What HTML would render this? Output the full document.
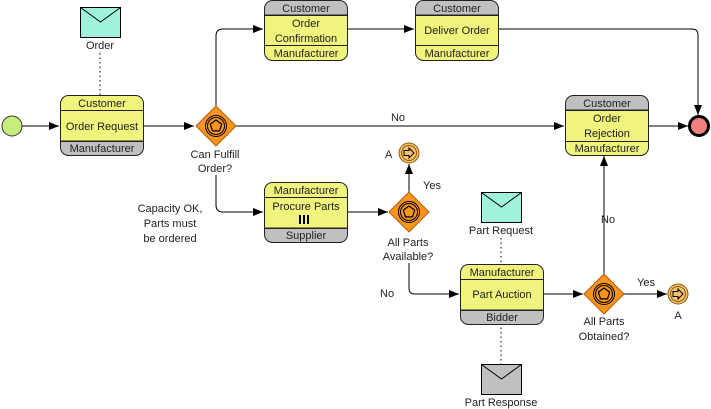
<!DOCTYPE html>
<html><head><meta charset="utf-8"><style>
body{margin:0;background:#fff;}
svg{display:block;font-family:"Liberation Sans",sans-serif;}
text{font-size:11px;fill:#222;}
</style></head><body>
<svg width="711" height="409" viewBox="0 0 711 409" xmlns="http://www.w3.org/2000/svg">
<defs>
<marker id="ar" markerWidth="10" markerHeight="8" refX="10" refY="4" orient="auto" markerUnits="userSpaceOnUse">
<path d="M0,0 L10,4 L0,8 Z" fill="#000"/></marker>
<g id="gw">
<path d="M0,-20 L20,0 L0,20 L-20,0 Z" fill="#f7941d" stroke="#b06010" stroke-width="1"/>
<circle r="10.5" fill="none" stroke="#000" stroke-width="1"/>
<circle r="8.5" fill="none" stroke="#000" stroke-width="1"/>
<path d="M0,-6 L5.7,-1.9 L3.5,4.9 L-3.5,4.9 L-5.7,-1.9 Z" fill="none" stroke="#000" stroke-width="1.2"/>
</g>
<g id="lnk">
<circle r="10" fill="#f5c26b" stroke="#8a5a10" stroke-width="1"/>
<circle r="7.5" fill="none" stroke="#8a5a10" stroke-width="1"/>
<path d="M-5,-2.5 L0,-2.5 L0,-5 L5,0 L0,5 L0,2.5 L-5,2.5 Z" fill="none" stroke="#000" stroke-width="1"/>
</g>
</defs>

<!-- connectors -->
<g stroke="#000" stroke-width="1" fill="none">
<line x1="22" y1="126" x2="59" y2="126" marker-end="url(#ar)"/>
<line x1="143" y1="126" x2="194" y2="126" marker-end="url(#ar)"/>
<path d="M216,106 L216,36 Q216,29 223,29 L263,29" marker-end="url(#ar)"/>
<line x1="347" y1="29" x2="414" y2="29" marker-end="url(#ar)"/>
<path d="M499,29 L692,29 Q698,29 698,35 L698,115" marker-end="url(#ar)"/>
<line x1="236" y1="126" x2="564" y2="126" marker-end="url(#ar)"/>
<line x1="648" y1="126" x2="688" y2="126" marker-end="url(#ar)"/>
<path d="M216,175 L216,205 Q216,212 223,212 L263,212" marker-end="url(#ar)"/>
<line x1="347" y1="212" x2="388" y2="212" marker-end="url(#ar)"/>
<line x1="409" y1="192" x2="409" y2="164" marker-end="url(#ar)"/>
<path d="M409,263 L409,288 Q409,294 415,294 L459,294" marker-end="url(#ar)"/>
<line x1="543" y1="294" x2="583" y2="294" marker-end="url(#ar)"/>
<line x1="624" y1="294" x2="667" y2="294" marker-end="url(#ar)"/>
<line x1="604" y1="274" x2="604" y2="156" marker-end="url(#ar)"/>
<line x1="100" y1="53" x2="100" y2="95" stroke-dasharray="1.5,3"/>
<line x1="501" y1="238" x2="501" y2="263" stroke-dasharray="1.5,3"/>
<line x1="501" y1="323" x2="501" y2="364" stroke-dasharray="1.5,3"/>
</g>

<!-- start / end -->
<circle cx="12" cy="126" r="10" fill="#c6ec7c" stroke="#333" stroke-width="1"/>
<circle cx="699" cy="126" r="9.5" fill="#f08080" stroke="#000" stroke-width="3"/>

<!-- envelopes -->
<g stroke="#000" stroke-width="1">
<rect x="80.5" y="7.5" width="40" height="30" fill="#9ff3dc"/><path d="M80.5,7.5 L100.5,22 L120.5,7.5" fill="none"/>
<rect x="481.5" y="192.5" width="40" height="30" fill="#9ff3dc"/><path d="M481.5,192.5 L501.5,207 L521.5,192.5" fill="none"/>
<rect x="481.5" y="364.5" width="40" height="30" fill="#c0c0c0"/><path d="M481.5,364.5 L501.5,379 L521.5,364.5" fill="none"/>
</g>

<!-- tasks -->
<g stroke="#222" stroke-width="1">
<!-- Order Request -->
<clipPath id="c1"><rect x="60.5" y="95.5" width="83" height="60" rx="8"/></clipPath>
<g clip-path="url(#c1)"><rect x="60" y="95" width="84" height="61" fill="#f0f47c"/><rect x="60" y="141" width="84" height="15" fill="#c0c0c0"/></g>
<rect x="60.5" y="95.5" width="83" height="60" rx="8" fill="none"/>
<line x1="60.5" y1="110.5" x2="143.5" y2="110.5"/><line x1="60.5" y1="141.5" x2="143.5" y2="141.5"/>
<!-- Order Confirmation -->
<clipPath id="c2"><rect x="264.5" y="0.5" width="83" height="60" rx="8"/></clipPath>
<g clip-path="url(#c2)"><rect x="264" y="0" width="84" height="61" fill="#f0f47c"/><rect x="264" y="0" width="84" height="15" fill="#c0c0c0"/></g>
<rect x="264.5" y="0.5" width="83" height="60" rx="8" fill="none"/>
<line x1="264.5" y1="15.5" x2="347.5" y2="15.5"/><line x1="264.5" y1="45.5" x2="347.5" y2="45.5"/>
<!-- Deliver Order -->
<clipPath id="c3"><rect x="415.5" y="0.5" width="83" height="60" rx="8"/></clipPath>
<g clip-path="url(#c3)"><rect x="415" y="0" width="84" height="61" fill="#f0f47c"/><rect x="415" y="0" width="84" height="15" fill="#c0c0c0"/></g>
<rect x="415.5" y="0.5" width="83" height="60" rx="8" fill="none"/>
<line x1="415.5" y1="15.5" x2="498.5" y2="15.5"/><line x1="415.5" y1="45.5" x2="498.5" y2="45.5"/>
<!-- Order Rejection -->
<clipPath id="c4"><rect x="565.5" y="95.5" width="83" height="60" rx="8"/></clipPath>
<g clip-path="url(#c4)"><rect x="565" y="95" width="84" height="61" fill="#f0f47c"/><rect x="565" y="95" width="84" height="15" fill="#c0c0c0"/></g>
<rect x="565.5" y="95.5" width="83" height="60" rx="8" fill="none"/>
<line x1="565.5" y1="110.5" x2="648.5" y2="110.5"/><line x1="565.5" y1="141.5" x2="648.5" y2="141.5"/>
<!-- Procure Parts -->
<clipPath id="c5"><rect x="264.5" y="182.5" width="83" height="60" rx="8"/></clipPath>
<g clip-path="url(#c5)"><rect x="264" y="182" width="84" height="61" fill="#f0f47c"/><rect x="264" y="228" width="84" height="15" fill="#c0c0c0"/></g>
<rect x="264.5" y="182.5" width="83" height="60" rx="8" fill="none"/>
<line x1="264.5" y1="197.5" x2="347.5" y2="197.5"/><line x1="264.5" y1="228.5" x2="347.5" y2="228.5"/>
<!-- Part Auction -->
<clipPath id="c6"><rect x="460.5" y="264.5" width="83" height="60" rx="8"/></clipPath>
<g clip-path="url(#c6)"><rect x="460" y="264" width="84" height="61" fill="#f0f47c"/><rect x="460" y="310" width="84" height="15" fill="#c0c0c0"/></g>
<rect x="460.5" y="264.5" width="83" height="60" rx="8" fill="none"/>
<line x1="460.5" y1="279.5" x2="543.5" y2="279.5"/><line x1="460.5" y1="310.5" x2="543.5" y2="310.5"/>
</g>
<g fill="#000"><rect x="299" y="215" width="2" height="9"/><rect x="303" y="215" width="2" height="9"/><rect x="307" y="215" width="2" height="9"/></g>

<!-- gateways / links -->
<use href="#gw" x="216" y="126"/>
<use href="#gw" x="409" y="212"/>
<use href="#gw" x="604" y="294"/>
<use href="#lnk" x="409" y="153"/>
<use href="#lnk" x="678" y="294"/>

<!-- text -->
<g text-anchor="middle">
<text x="100" y="49">Order</text>
<text x="102" y="107">Customer</text>
<text x="102" y="130">Order Request</text>
<text x="102" y="152">Manufacturer</text>
<text x="306" y="12">Customer</text>
<text x="306" y="27">Order</text>
<text x="306" y="42">Confirmation</text>
<text x="306" y="57">Manufacturer</text>
<text x="457" y="12">Customer</text>
<text x="457" y="34">Deliver Order</text>
<text x="457" y="57">Manufacturer</text>
<text x="607" y="107">Customer</text>
<text x="607" y="122">Order</text>
<text x="607" y="137">Rejection</text>
<text x="607" y="152">Manufacturer</text>
<text x="306" y="194">Manufacturer</text>
<text x="306" y="210">Procure Parts</text>
<text x="306" y="239">Supplier</text>
<text x="502" y="276">Manufacturer</text>
<text x="502" y="298">Part Auction</text>
<text x="502" y="321">Bidder</text>
<text x="215" y="158">Can Fulfill</text>
<text x="215" y="172">Order?</text>
<text x="170" y="212">Capacity OK,</text>
<text x="170" y="227">Parts must</text>
<text x="170" y="242">be ordered</text>
<text x="398" y="121">No</text>
<text x="408" y="246">All Parts</text>
<text x="408" y="260">Available?</text>
<text x="501" y="234">Part Request</text>
<text x="501" y="406">Part Response</text>
<text x="604" y="325">All Parts</text>
<text x="604" y="340">Obtained?</text>
<text x="678" y="319">A</text>
</g>
<text x="385" y="158">A</text>
<text x="423" y="189">Yes</text>
<text x="380" y="297">No</text>
<text x="637" y="286">Yes</text>
<text x="601" y="223">No</text>
</svg>
</body></html>
